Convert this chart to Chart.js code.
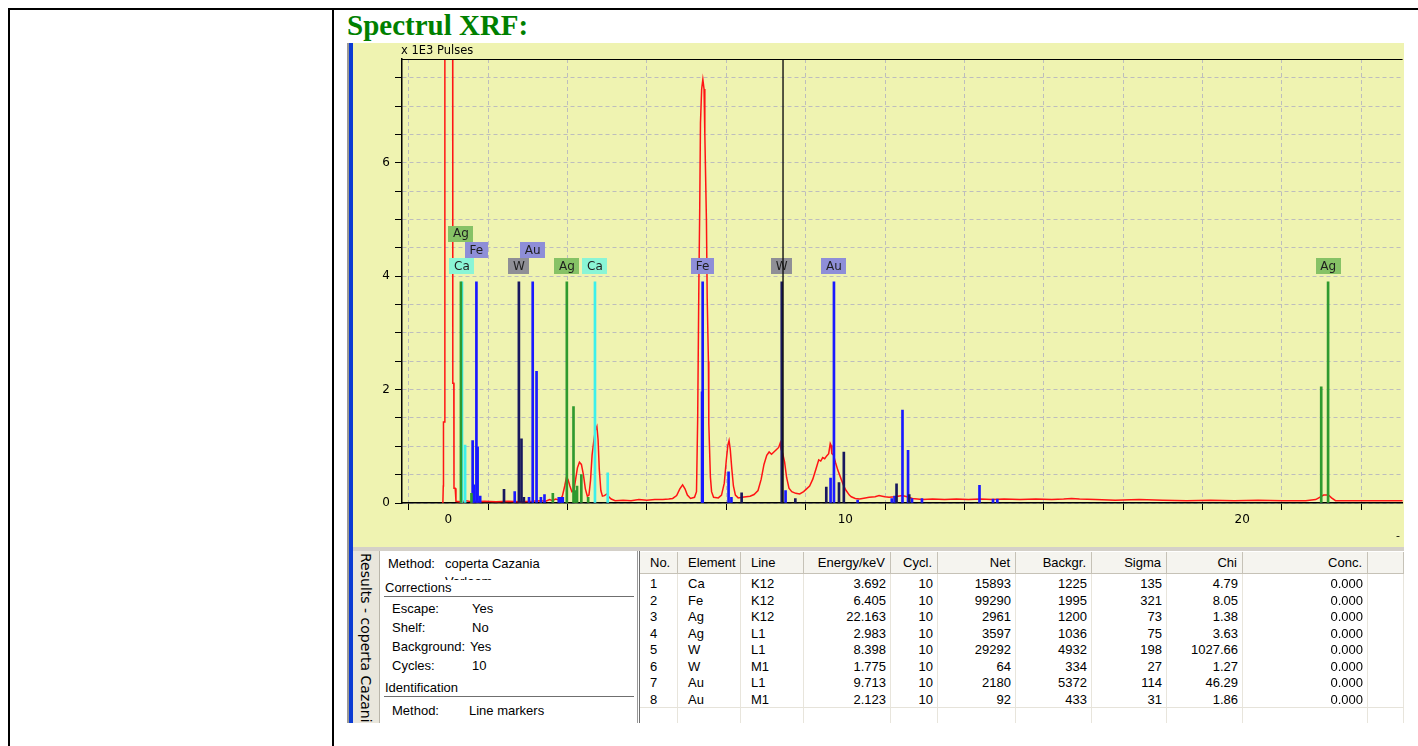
<!DOCTYPE html>
<html lang="ro">
<head>
<meta charset="utf-8">
<title>Spectrul XRF</title>
<script src="https://cdn.jsdelivr.net/npm/chart.js@4.4.1/dist/chart.umd.min.js"></script>
<style>
    html, body { margin: 0; padding: 0; background: #fff; }
    body { position: relative; width: 1418px; height: 746px; overflow: hidden;
           font-family: "Liberation Sans", Arial, sans-serif; color: #000; }
    .abs { position: absolute; }
    .rule { position: absolute; background: #000; }
    .title { position: absolute; left: 347px; top: 11px; margin: 0; white-space: nowrap;
             font: bold 29px/29px "Liberation Serif", "Times New Roman", serif; color: #008000; }

    .edge-gray { left: 347px; top: 43px; width: 2px; height: 680px; background: #9c9a94; }
    .edge-blue { left: 349px; top: 43px; width: 4px; height: 680px; background: #0b3bd3; }
    .plot-panel { left: 353px; top: 43px; width: 1051px; height: 504px; background: #eff3b1; overflow: hidden; }
    .plot-panel canvas { position: absolute; left: 2px; top: 0; }
    .units { left: 48px; top: 1px; font: 11.5px/12px "DejaVu Sans", sans-serif; white-space: nowrap; }
    .axis-end { left: 1043px; top: 487px; font: 11px/12px "DejaVu Sans", sans-serif; }
    .splitter { left: 353px; top: 547px; width: 1051px; height: 4px; background: #d4d0c8; }

    .tab { left: 353px; top: 551px; width: 26px; height: 172px; background: #e9e6dc;
           border-right: 1px solid #b9b5aa; overflow: hidden; }
    .tab span { position: absolute; left: 0; top: 2px; width: 26px; line-height: 26px;
                writing-mode: vertical-rl; white-space: nowrap;
                font: 14px/26px "DejaVu Sans", sans-serif; }

    .info { left: 380px; top: 551px; width: 256px; height: 172px; background: #fff; overflow: hidden;
            font-size: 13px; line-height: 16px; }
    .info span { position: absolute; white-space: nowrap; }
    .info .sep { position: absolute; left: 4px; width: 250px; height: 1px; background: #6f6f6f; }
    .info .clip { position: absolute; left: 65px; top: 19px; width: 180px; height: 10px; overflow: hidden; }

    .grid { left: 636px; top: 551px; width: 768px; height: 172px; background: #fff; overflow: hidden;
            font-size: 13px; }
    .grid div { position: absolute; box-sizing: border-box; white-space: nowrap; }
    .grid .head { background: #f5f4ef; border-right: 1px solid #c6c2b7; border-bottom: 1px solid #c6c2b7;
                  height: 22px; line-height: 22px; }
    .grid .cell { height: 16.5px; line-height: 16.5px; }
    .grid .vline { width: 1px; background: #e8e5dc; }
</style>
</head>
<body>

<div class="rule" style="left:8px;top:8px;width:1410px;height:2px"></div>
<div class="rule" style="left:8px;top:8px;width:2px;height:738px"></div>
<div class="rule" style="left:332px;top:8px;width:2px;height:738px"></div>

<h1 class="title">Spectrul XRF:</h1>

<div class="abs edge-gray"></div>
<div class="abs edge-blue"></div>
<div class="abs plot-panel">
    <canvas id="spectrumChart" width="1049" height="503"></canvas>
    <span class="abs units">x 1E3 Pulses</span>
    <span class="abs axis-end">-</span>
</div>
<div class="abs splitter"></div>

<div class="abs tab"><span>Results - coperta Cazania Varlaam</span></div>

<div class="abs info">
    <span style="left:8px;top:5px">Method:</span>
    <span style="left:65px;top:5px">coperta Cazania</span>
    <div class="clip"><span style="left:0;top:4px">Varlaam</span></div>
    <span style="left:5px;top:29px">Corrections</span>
    <div class="sep" style="top:45px"></div>
    <span style="left:12px;top:50px">Escape:</span><span style="left:92px;top:50px">Yes</span>
    <span style="left:12px;top:69px">Shelf:</span><span style="left:92px;top:69px">No</span>
    <span style="left:12px;top:88px">Background:</span><span style="left:90px;top:88px">Yes</span>
    <span style="left:12px;top:107px">Cycles:</span><span style="left:92px;top:107px">10</span>
    <span style="left:5px;top:129px">Identification</span>
    <div class="sep" style="top:145px"></div>
    <span style="left:12px;top:152px">Method:</span><span style="left:89px;top:152px">Line markers</span>
</div>

<div class="abs grid" id="resultsGrid"></div>

<script>
// Spectrum, keV / thousands of pulses
const specKeV = [
    -0.14, -0.13, -0.125, -0.095, -0.09, 0.105, 0.11, 0.135, 0.14, 0.17, 0.19,
    0.3, 0.45, 0.6, 0.9, 1.2, 1.5, 1.8, 2.1, 2.3, 2.45, 2.55, 2.62, 2.7, 2.8,
    2.87, 2.93, 2.97, 3.01, 3.06, 3.11, 3.16, 3.2, 3.25, 3.3, 3.35, 3.4, 3.45,
    3.5, 3.54, 3.58, 3.62, 3.66, 3.7, 3.74, 3.77, 3.8, 3.84, 3.88, 3.93, 3.99,
    4.04, 4.1, 4.2, 4.4, 4.6, 4.8, 5.0, 5.2, 5.4, 5.55, 5.65, 5.75, 5.83, 5.9,
    5.96, 6.02, 6.1, 6.2, 6.25, 6.28, 6.31, 6.33, 6.35, 6.38, 6.41, 6.44, 6.46,
    6.5, 6.52, 6.55, 6.56, 6.6, 6.63, 6.68, 6.8, 6.88, 6.95, 7.0, 7.04, 7.07,
    7.1, 7.14, 7.18, 7.23, 7.3, 7.4, 7.5, 7.6, 7.7, 7.8, 7.88, 7.95, 8.02, 8.08,
    8.14, 8.2, 8.26, 8.32, 8.36, 8.38, 8.42, 8.47, 8.52, 8.58, 8.65, 8.75, 8.85,
    8.95, 9.01, 9.1, 9.18, 9.26, 9.33, 9.38, 9.43, 9.48, 9.53, 9.58, 9.62, 9.64,
    9.66, 9.7, 9.75, 9.81, 9.89, 9.96, 10.02, 10.1, 10.15, 10.25, 10.36, 10.5,
    10.6, 10.75, 10.85, 10.93, 11.0, 11.1, 11.25, 11.44, 11.55, 11.69, 11.94,
    12.2, 12.5, 12.8, 13.1, 13.4, 13.7, 14.0, 14.4, 14.8, 15.2, 15.5, 15.7, 15.9,
    16.3, 16.8, 17.4, 18.0, 18.6, 19.2, 19.8, 20.4, 21.0, 21.6, 21.85, 21.95,
    22.05, 22.17, 22.25, 22.35, 23.0, 24.1
];
const specCounts = [
    0, 0.3, 1.43, 1.43, 12, 12, 2.11, 2.11, 0.26, 0.26, 0.03,
    0.02, 0.04, 0.02, 0.03, 0.02, 0.03, 0.02, 0.03, 0.04, 0.03, 0.06, 0.04, 0.07, 0.05,
    0.12, 0.3, 0.44, 0.42, 0.3, 0.2, 0.22, 0.4, 0.62, 0.72, 0.68, 0.5, 0.25,
    0.12, 0.14, 0.4, 0.85, 1.08, 1.28, 1.35, 1.12, 0.6, 0.22, 0.12, 0.13, 0.16,
    0.11, 0.07, 0.04, 0.05, 0.04, 0.06, 0.05, 0.06, 0.06, 0.07, 0.08, 0.13, 0.25, 0.32,
    0.25, 0.14, 0.08, 0.1, 0.2, 1.5, 3.9, 5.1, 6.7, 7.3, 7.47, 7.3, 6.5,
    5.0, 3.6, 2.5, 1.4, 0.46, 0.2, 0.1, 0.09, 0.14, 0.35, 0.75, 1.02, 1.1,
    0.95, 0.6, 0.3, 0.14, 0.09, 0.1, 0.11, 0.12, 0.15, 0.22, 0.42, 0.68, 0.84, 0.9,
    0.86, 0.9, 0.94, 0.98, 1.06, 0.95, 0.88, 0.72, 0.45, 0.26, 0.2, 0.17, 0.16,
    0.2, 0.24, 0.3, 0.42, 0.6, 0.76, 0.74, 0.8, 0.78, 0.83, 0.87, 1.05, 1.02,
    0.87, 0.85, 0.72, 0.58, 0.43, 0.3, 0.22, 0.14, 0.11, 0.08, 0.07, 0.09,
    0.1, 0.11, 0.13, 0.12, 0.11, 0.1, 0.11, 0.13, 0.11, 0.08, 0.06,
    0.07, 0.06, 0.07, 0.06, 0.07, 0.06, 0.07, 0.06, 0.07, 0.06, 0.07, 0.08, 0.07,
    0.06, 0.05, 0.06, 0.05, 0.04, 0.05, 0.04, 0.05, 0.04, 0.04, 0.06, 0.1,
    0.14, 0.14, 0.09, 0.04, 0.04, 0.04
];

// Evaluation results (one row per fitted line)
const resultElem = ['Ca', 'Fe', 'Ag', 'Ag', 'W', 'W', 'Au', 'Au'];
const resultLine = ['K12', 'K12', 'K12', 'L1', 'L1', 'M1', 'L1', 'M1'];
const resultKeV = [3.692, 6.405, 22.163, 2.983, 8.398, 1.775, 9.713, 2.123];
const resultCycles = [10, 10, 10, 10, 10, 10, 10, 10];
const resultNet = [15893, 99290, 2961, 3597, 29292, 64, 2180, 92];
const resultBackgr = [1225, 1995, 1200, 1036, 4932, 334, 5372, 433];
const resultSigma = [135, 321, 73, 75, 198, 27, 114, 31];
const resultChi = [4.79, 8.05, 1.38, 3.63, 1027.66, 1.27, 46.29, 1.86];
const resultConc = [0, 0, 0, 0, 0, 0, 0, 0];

// Low-energy family lines that also carry a tag
const lowElem = ['Ca', 'Fe', 'Ag'];
const lowKeV = [0.341, 0.705, 0.315];

// Height of the tagged marker lines
const markerTop = 3.9;

// Remaining family lines
const minorElem = [
    'Ca', 'Ag', 'Fe', 'Fe', 'Fe', 'Fe', 'W', 'Au', 'W', 'W', 'Au', 'Au', 'Au', 'Au',
    'Ag', 'Au', 'Au', 'Au', 'Ag', 'Ag', 'Ag', 'Ag', 'Ag', 'Ca', 'Fe', 'Fe', 'Fe',
    'W', 'Au', 'W', 'W', 'Au', 'W', 'W', 'Au', 'Au', 'Au', 'W', 'Au', 'Au', 'W',
    'Au', 'Au', 'Au', 'Au', 'Au', 'Ag'
];
const minorKeV = [
    0.42, 0.58, 0.61, 0.64, 0.735, 0.80, 1.40, 1.67, 1.84, 1.90, 2.03, 2.22, 2.33, 2.42,
    2.63, 2.78, 2.83, 2.88, 3.151, 3.19, 3.24, 3.348, 3.52, 4.013, 6.39, 7.058, 7.13,
    7.387, 8.494, 8.74, 9.52, 9.628, 9.84, 9.962, 10.31, 11.17, 11.24, 11.29, 11.44, 11.58, 11.61,
    11.68, 11.93, 13.38, 13.72, 13.83, 21.99
];
const minorHeight = [
    1.02, 0.17, 1.1, 0.32, 0.99, 0.12, 0.24, 0.2, 1.13, 0.1, 0.1, 2.32, 0.1, 0.15,
    0.17, 0.1, 0.1, 0.1, 1.7, 0.22, 0.3, 0.5, 0.1, 0.53, 1.96, 0.55, 0.1,
    0.18, 0.22, 0.08, 0.28, 0.44, 0.36, 0.9, 0.05, 0.08, 0.12, 0.34, 1.64, 0.93, 0.15,
    0.08, 0.08, 0.31, 0.07, 0.07, 2.05
];

// Cursor position, keV
const cursorKeV = 8.43;

// Element colours: marker line and tag box
const palette = {
    Ag: { line: '#2f9a2f', tag: '#86c266' },
    Ca: { line: '#3cf0ec', tag: '#8af5d6' },
    Fe: { line: '#1717ff', tag: '#8e8ed8' },
    W:  { line: '#18185e', tag: '#8f8f96' },
    Au: { line: '#1a1aff', tag: '#8e8ed8' }
};

const tagElem = resultElem.concat(lowElem);
const tagKeV = resultKeV.concat(lowKeV);

// Element tags above the marker lines, stacked when they collide, plus cursor and frame
const markerTags = {
    id: 'markerTags',
    afterDatasetsDraw(chart) {
        const { ctx, chartArea, scales: { x, y } } = chart;
        const base = y.getPixelForValue(markerTop) - 7.5;
        const rows = [];
        ctx.save();
        ctx.font = '12px "DejaVu Sans"';
        ctx.textAlign = 'center';
        ctx.textBaseline = 'middle';
        tagElem.forEach((el, i) => {
            const cx = x.getPixelForValue(tagKeV[i]);
            const w = Math.round(ctx.measureText(el).width + 9);
            const l = cx - w / 2, r = cx + w / 2;
            let row = 0;
            while ((rows[row] || []).some(b => l < b[1] && r > b[0])) row++;
            (rows[row] = rows[row] || []).push([l, r]);
            const bottom = base - row * 16.3;
            ctx.fillStyle = palette[el].tag;
            ctx.fillRect(Math.round(l), Math.round(bottom - 16), w, 16);
            ctx.fillStyle = '#1e1e1e';
            ctx.fillText(el, cx, bottom - 7.5);
        });

        const cx = x.getPixelForValue(cursorKeV);
        ctx.strokeStyle = '#111';
        ctx.lineWidth = 1.4;
        ctx.beginPath();
        ctx.moveTo(cx, chartArea.top);
        ctx.lineTo(cx, chartArea.bottom);
        ctx.stroke();

        ctx.strokeStyle = '#000';
        ctx.lineWidth = 1.2;
        ctx.beginPath();
        ctx.moveTo(chartArea.left, chartArea.top + 0.5);
        ctx.lineTo(chartArea.right, chartArea.top + 0.5);
        ctx.stroke();
        ctx.restore();
    }
};

function buildMarkerSets() {
    return Object.keys(palette).map(el => {
        const pts = [];
        tagElem.forEach((e, i) => { if (e === el) pts.push({ x: tagKeV[i], y: markerTop }); });
        minorElem.forEach((e, i) => { if (e === el) pts.push({ x: minorKeV[i], y: minorHeight[i] }); });
        return {
            type: 'bar',
            label: el,
            data: pts,
            backgroundColor: palette[el].line,
            borderWidth: 0,
            barThickness: 2,
            grouped: false,
            order: 0
        };
    });
}

function initChart() {
    const ctx = document.getElementById('spectrumChart').getContext('2d');
    const spectrum = {
        type: 'line',
        label: 'Pulses',
        data: specKeV.map((e, i) => ({ x: e, y: specCounts[i] })),
        borderColor: '#ff1414',
        borderWidth: 1.5,
        pointRadius: 0,
        tension: 0,
        order: 1
    };

    new Chart(ctx, {
        type: 'line',
        data: { datasets: [...buildMarkerSets(), spectrum] },
        options: {
            responsive: false,
            animation: false,
            events: [],
            layout: { padding: { top: 16, right: 0, bottom: 0, left: 0 } },
            plugins: { legend: { display: false }, tooltip: { enabled: false } },
            scales: {
                x: {
                    type: 'linear',
                    min: -1.17,
                    max: 24.04,
                    offset: false,
                    ticks: {
                        stepSize: 2, includeBounds: false, autoSkip: false, maxRotation: 0,
                        padding: 3, color: '#000', font: { family: '"DejaVu Sans"', size: 12 },
                        callback: v => (v % 10 === 0 ? String(v) : '')
                    },
                    grid: { color: '#bdbdbd', lineWidth: 1, tickLength: 7, tickColor: '#000', tickWidth: 1 },
                    border: { color: '#000', width: 1.5, dash: [4, 3] },
                    afterFit: s => { s.height = 43; }
                },
                y: {
                    type: 'linear',
                    min: 0,
                    max: 7.83,
                    ticks: {
                        stepSize: 0.5, includeBounds: false, autoSkip: false,
                        padding: 5, color: '#000', font: { family: '"DejaVu Sans"', size: 12 },
                        callback: v => (v % 2 === 0 ? String(v) : '')
                    },
                    grid: { color: '#bdbdbd', lineWidth: 1, tickLength: 7, tickColor: '#000', tickWidth: 1 },
                    border: { color: '#000', width: 1.5, dash: [4, 3] },
                    afterFit: s => { s.width = 47; }
                }
            }
        },
        plugins: [markerTags]
    });
}

// Results grid below the spectrum
const columns = [
    { head: 'No.', width: 38, align: 'left', cell: i => String(i + 1) },
    { head: 'Element', width: 63, align: 'left', cell: i => resultElem[i] },
    { head: 'Line', width: 63, align: 'left', cell: i => resultLine[i] },
    { head: 'Energy/keV', width: 87, align: 'right', cell: i => resultKeV[i].toFixed(3) },
    { head: 'Cycl.', width: 47, align: 'right', cell: i => String(resultCycles[i]) },
    { head: 'Net', width: 78, align: 'right', cell: i => String(resultNet[i]) },
    { head: 'Backgr.', width: 76, align: 'right', cell: i => String(resultBackgr[i]) },
    { head: 'Sigma', width: 75, align: 'right', cell: i => String(resultSigma[i]) },
    { head: 'Chi', width: 76, align: 'right', cell: i => resultChi[i].toFixed(2) },
    { head: 'Conc.', width: 125, align: 'right', cell: i => resultConc[i].toFixed(3) },
    { head: '', width: 36, align: 'left', cell: () => '' }
];

function buildGrid() {
    const grid = document.getElementById('resultsGrid');
    let html = '<div style="left:1px;top:0;width:1px;height:172px;background:#9a9a9a"></div>' +
               '<div style="left:3px;top:0;width:1px;height:172px;background:#707070"></div>';
    let x = 4;
    columns.forEach(col => {
        const pad = col.align === 'left' ? 'padding-left:10px' : 'padding-right:5px';
        html += `<div class="head" style="left:${x}px;top:1px;width:${col.width}px;text-align:${col.align};${pad}">${col.head}</div>`;
        html += `<div class="vline" style="left:${x + col.width - 1}px;top:23px;height:150px"></div>`;
        resultElem.forEach((_, i) => {
            html += `<div class="cell" style="left:${x}px;top:${25 + i * 16.5}px;width:${col.width}px;text-align:${col.align};${pad}">${col.cell(i)}</div>`;
        });
        x += col.width;
    });
    html += '<div style="left:4px;top:156px;width:764px;height:1px;background:#e6e3da"></div>';
    grid.innerHTML = html;
}

document.addEventListener('DOMContentLoaded', () => {
    buildGrid();
    initChart();
});
</script>
</body>
</html>
